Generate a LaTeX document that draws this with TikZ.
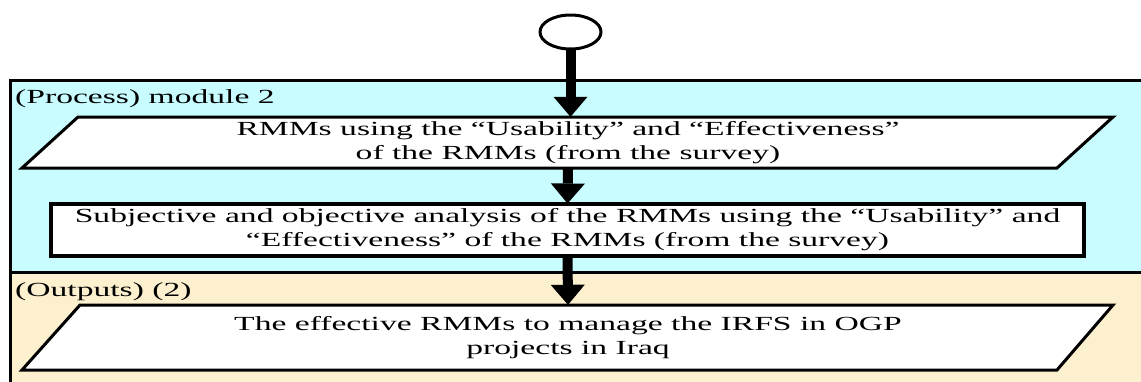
\documentclass[tikz,border=0pt]{standalone}
\usepackage{fontspec}
\setmainfont{Liberation Serif}[FakeStretch=1.68]
\usetikzlibrary{arrows.meta,shapes.geometric}
\definecolor{procfill}{RGB}{200,252,255}
\definecolor{outfill}{RGB}{253,240,207}

\begin{document}
\begin{tikzpicture}[x=1bp,y=-1bp,
  flowarrow/.style={line width=10bp,-{Triangle[width=34bp,length=20bp,line width=0pt]}},
  txt/.style={font=\fontsize{20bp}{23.5bp}\selectfont, align=center, inner sep=0pt},
  slanted/.style={draw, line width=3bp, fill=white, line join=miter},
  panellabel/.style={font=\fontsize{20bp}{23.5bp}\selectfont, anchor=base west, inner sep=0pt}]
\useasboundingbox (0,0) rectangle (1141,381);
\clip (0,0) rectangle (1141,381);

% the two panels: process (cyan) and outputs (cream)
\fill[procfill] (10,80) rectangle (1160,272);
\fill[outfill] (10,272) rectangle (1160,400);
\draw[line width=3bp] (1160,80) -- (10,80) -- (10,400);
\draw[line width=3bp] (10,272) -- (1160,272);

\node[panellabel] (proclabel) at (15,103) {(Process) module 2};
\node[panellabel] (outlabel) at (15,296) {(Outputs) (2)};

% start terminal
\node[ellipse, draw, line width=3bp, fill=white, minimum width=61bp, minimum height=34bp,
      inner sep=0pt, outer sep=0pt] (start) at (570.5,32) {};

% input/output step of the process panel
\draw[slanted] (78,117) -- (1113,117) -- (1057,168) -- (22,168) -- cycle;
\node[txt, minimum height=51bp] (p1) at (568,142.5)
  {RMMs using the “Usability” and “Effectiveness”\\of the RMMs (from the survey)};

% analysis step
\node[txt, draw, line width=4bp, fill=white, minimum width=1033bp, minimum height=52bp,
      outer sep=0pt] (r2) at (567.5,229.5)
  {Subjective and objective analysis of the RMMs using the “Usability” and\\“Effectiveness” of the RMMs (from the survey)};

% output
\draw[slanted] (80,305) -- (1113,305) -- (1057,370) -- (22,370) -- cycle;
\node[txt, minimum height=65bp] (p3) at (568,337.5)
  {The effective RMMs to manage the IRFS in OGP\\projects in Iraq};

% flow
\draw[flowarrow] (start.south) -- (start.south |- p1.north);
\draw[flowarrow] (p1.south) -- (r2.north);
\draw[flowarrow] (r2.south) -- (p3.north);
\end{tikzpicture}
\end{document}
